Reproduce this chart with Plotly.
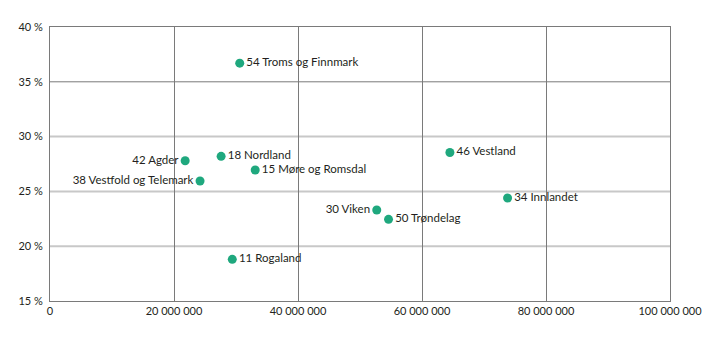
import plotly.graph_objects as go

regions = ["54 Troms og Finnmark", "42 Agder", "18 Nordland", "15 Møre og Romsdal",
           "38 Vestfold og Telemark", "11 Rogaland", "46 Vestland", "30 Viken",
           "50 Trøndelag", "34 Innlandet"]
x_values = [30.6e6, 21.8e6, 27.6e6, 33.1e6, 24.2e6, 29.4e6, 64.5e6, 52.7e6, 54.6e6, 73.8e6]
y_values = [36.7, 27.8, 28.2, 26.95, 25.95, 18.8, 28.55, 23.3, 22.45, 24.4]
label_side = ["middle right", "middle left", "middle right", "middle right", "middle left",
              "middle right", "middle right", "middle left", "middle right", "middle right"]

x_ticks = [0, 20e6, 40e6, 60e6, 80e6, 100e6]
x_tick_labels = ["0", "20 000 000", "40 000 000", "60 000 000", "80 000 000", "100 000 000"]
y_ticks = [15, 20, 25, 30, 35, 40]
y_tick_labels = ["15 %", "20 %", "25 %", "30 %", "35 %", "40 %"]

dark = "#7a7a7a"
light = "#c8c8c8"
text_color = "#231f20"
font_family = "Lato, 'Open Sans', sans-serif"

fig = go.Figure()
fig.add_trace(go.Scatter(
    x=x_values, y=y_values, mode="markers+text", text=regions,
    textposition=label_side,
    textfont=dict(family=font_family, size=11.5, color=text_color),
    marker=dict(size=9, color="#1fa87e"),
    cliponaxis=False, hoverinfo="skip"))

# horizontal gridlines: 35 % dark, others light
for v in y_ticks[1:-1]:
    fig.add_shape(type="line", xref="paper", x0=0, x1=1, yref="y", y0=v, y1=v,
                  line=dict(color=dark if v == 35 else light, width=1 if v == 35 else 2),
                  layer="below")

fig.update_layout(
    width=719, height=341,
    margin=dict(l=50, r=49, t=27, b=40),
    paper_bgcolor="white", plot_bgcolor="white",
    showlegend=False,
    font=dict(family=font_family, size=11, color=text_color),
    xaxis=dict(range=[0, 100e6], tickvals=x_ticks, ticktext=x_tick_labels,
               showgrid=True, gridcolor=dark, gridwidth=1,
               showline=True, linecolor=dark, linewidth=1, mirror=True,
               zeroline=False, ticks="", ticklen=0,
               tickfont=dict(family=font_family, size=11, color=text_color)),
    yaxis=dict(range=[15, 40], tickvals=y_ticks, ticktext=y_tick_labels,
               showgrid=False, ticklabelstandoff=4,
               showline=True, linecolor=dark, linewidth=1, mirror=True,
               zeroline=False, ticks="", ticklen=0,
               tickfont=dict(family=font_family, size=11, color=text_color)),
)

fig.write_html("out.html")
